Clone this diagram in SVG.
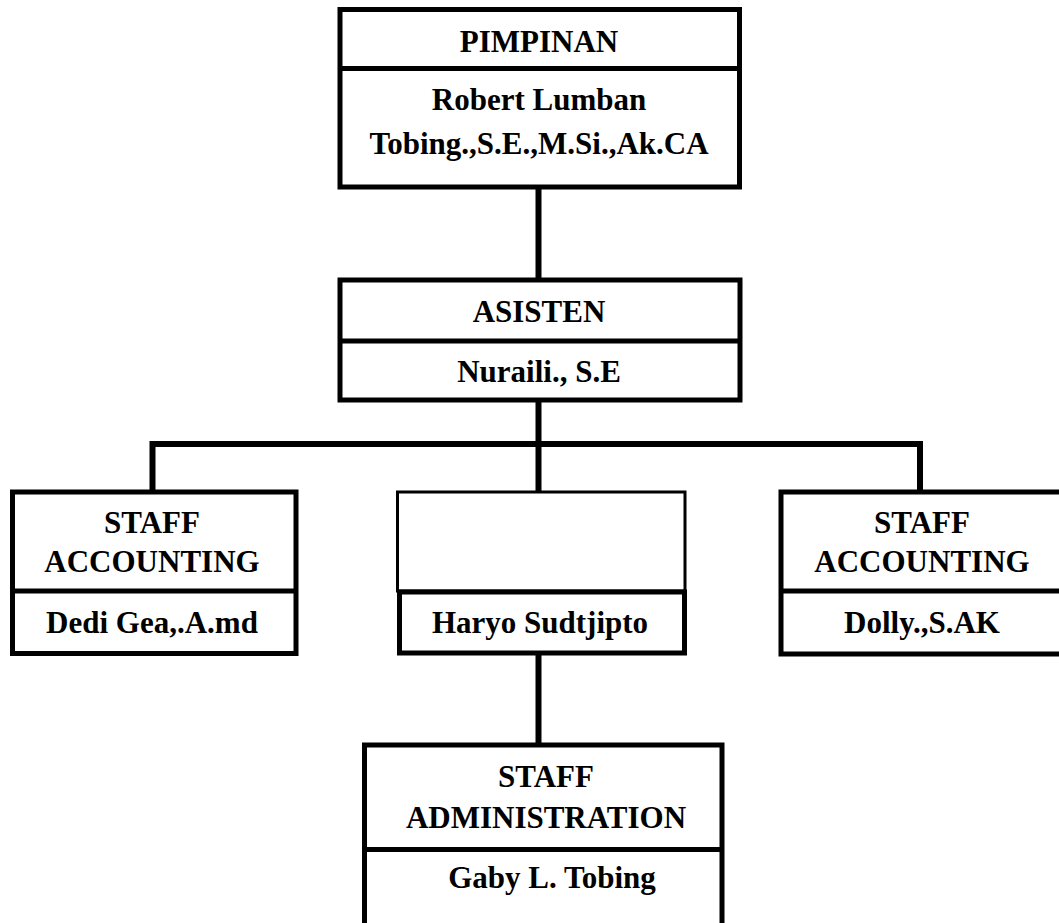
<svg xmlns="http://www.w3.org/2000/svg" width="1059" height="923" viewBox="0 0 1059 923">
<style>
.box{fill:#fff;stroke:#000;stroke-width:5}
.thin{fill:#fff;stroke:#000;stroke-width:3}
.div{stroke:#000;stroke-width:5}
.conn{fill:none;stroke:#000;stroke-width:6;stroke-linejoin:miter;stroke-linecap:butt}
text{font-family:"Liberation Serif","Times New Roman",serif;font-weight:bold;font-size:31px;fill:#000;text-anchor:middle}
</style>
<rect width="1059" height="923" fill="#fff"/>
<g id="connectors">
<line class="conn" x1="538.5" y1="187" x2="538.5" y2="280"/>
<line class="conn" x1="538.5" y1="400" x2="538.5" y2="492"/>
<path class="conn" d="M152.5 492 V444 H920 V492"/>
<line class="conn" x1="538.5" y1="653" x2="538.5" y2="745"/>
</g>
<g id="pimpinan">
<rect class="box" x="340" y="9.5" width="399.5" height="177.5"/>
<line class="div" x1="340" y1="68.5" x2="739.5" y2="68.5"/>
<text x="539" y="52">PIMPINAN</text>
<text x="539" y="110">Robert Lumban</text>
<text x="539" y="154">Tobing.,S.E.,M.Si.,Ak.CA</text>
</g>
<g id="asisten">
<rect class="box" x="340" y="280" width="400" height="120"/>
<line class="div" x1="340" y1="341" x2="740" y2="341"/>
<text x="539" y="322">ASISTEN</text>
<text x="539" y="382">Nuraili., S.E</text>
</g>
<g id="staff-accounting-left">
<rect class="box" x="12.5" y="492" width="283.5" height="161.5"/>
<line class="div" x1="12.5" y1="591" x2="296" y2="591"/>
<text x="152" y="533">STAFF</text>
<text x="152" y="572">ACCOUNTING</text>
<text x="152" y="633">Dedi Gea,.A.md</text>
</g>
<g id="haryo">
<rect class="thin" x="397.5" y="492" width="287.5" height="99"/>
<rect class="box" x="399.5" y="592" width="285" height="61"/>
<text x="540" y="633">Haryo Sudtjipto</text>
</g>
<g id="staff-accounting-right">
<path class="box" d="M1062 492 H781 V654 H1062"/>
<line class="div" x1="781" y1="591" x2="1062" y2="591"/>
<text x="922" y="533">STAFF</text>
<text x="922" y="572">ACCOUNTING</text>
<text x="922" y="633">Dolly.,S.AK</text>
</g>
<g id="staff-administration">
<path class="box" d="M364.5 926 V745 H722 V926"/>
<line class="div" x1="364.5" y1="849.5" x2="722" y2="849.5"/>
<text x="546" y="787">STAFF</text>
<text x="546" y="828">ADMINISTRATION</text>
<text x="552" y="888">Gaby L. Tobing</text>
</g>
</svg>
